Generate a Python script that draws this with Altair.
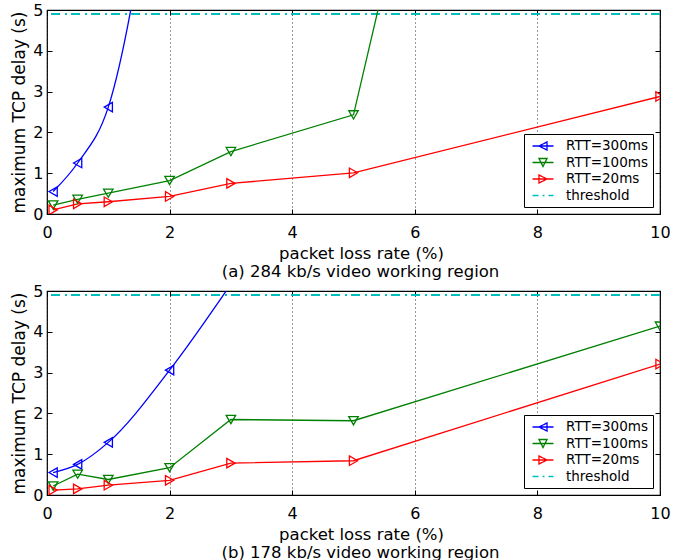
import altair as alt
import pandas as pd

# Packet loss rates (%) at which the maximum TCP delay was measured
loss_rate = [0.1, 0.5, 1, 2, 3, 5, 10]

# (a) 284 kb/s video working region: maximum TCP delay (s)
a_rtt300 = [0.55, 1.25, 2.62, 11.1]
a_rtt100 = [0.22, 0.36, 0.51, 0.82, 1.53, 2.43, 34.6]
a_rtt20 = [0.10, 0.25, 0.30, 0.43, 0.75, 1.01, 2.88]

# (b) 178 kb/s video working region: maximum TCP delay (s)
b_rtt300 = [0.55, 0.75, 1.29, 3.06, 5.17]
b_rtt100 = [0.22, 0.51, 0.38, 0.67, 1.85, 1.82, 4.14]
b_rtt20 = [0.12, 0.15, 0.24, 0.36, 0.78, 0.84, 3.21]

threshold = 4.9

series = ["RTT=300ms", "RTT=100ms", "RTT=20ms"]
legend_keys = series + ["threshold"]
colors = ["#0000FF", "#008000", "#FF0000"]
threshold_color = "#00BFBF"
marker_shapes = ["triangle-left", "triangle-down", "triangle-right"]
x_ticks = [0, 2, 4, 6, 8, 10]
y_ticks = [0, 1, 2, 3, 4, 5]

FONT = "DejaVu Sans"

# Legend glyphs: a short line with the series marker drawn over it
legend_paths = [
    "M-1.75,0H1.75M-0.67,0L0.67,-0.67L0.67,0.67Z",
    "M-1.75,0H1.75M-0.67,-0.67L0.67,-0.67L0,0.67Z",
    "M-1.75,0H1.75M0.67,0L-0.67,-0.67L-0.67,0.67Z",
    "M-1.75,0H1.75",
]
legend_dashes = [[1, 0], [1, 0], [1, 0], [6, 4, 2, 4]]


def long_table(values):
    rows = []
    for name, vals in zip(series, values):
        for x, y in zip(loss_rate, vals):
            rows.append({"loss": x, "delay": y, "series": name})
    return pd.DataFrame(rows)


def inward_axis(orient, values):
    return alt.Axis(orient=orient, offset=-5, tickSize=5, values=values,
                    labels=False, grid=False, domain=False, title=None,
                    tickColor="black", tickWidth=1)


def key_legend():
    return alt.Legend(title=None, orient="bottom-right", offset=7)


def panel(values, caption):
    df = long_table(values)
    xs = alt.Scale(domain=[0, 10], nice=False, zero=False)
    ys = alt.Scale(domain=[0, 5], nice=False)
    color = alt.Color("series:N", scale=alt.Scale(domain=series, range=colors), legend=None)

    main_x = alt.Axis(orient="bottom", values=x_ticks, grid=True, gridDash=[1, 3],
                      gridColor="black", gridOpacity=0.8, gridWidth=1, tickSize=0,
                      domain=False, labelFlush=False, labelPadding=10,
                      title="packet loss rate (%)", titlePadding=5, titleX=314,
                      titleFontSize=16.5)
    main_y = alt.Axis(orient="left", values=y_ticks, grid=False, tickSize=0, domain=False,
                      labelPadding=4, title="maximum TCP delay (s)", titlePadding=4)

    rule = alt.Chart(pd.DataFrame({"delay": [threshold]})).mark_rule(
        color=threshold_color, strokeDash=[9, 4, 2, 5], strokeWidth=2
    ).encode(y=alt.Y("delay:Q", scale=ys, axis=None))

    lines_rest = alt.Chart(df).transform_filter(
        alt.datum.series != series[0]
    ).mark_line(clip=True, strokeWidth=1.3).encode(
        x=alt.X("loss:Q", scale=xs, axis=main_x),
        y=alt.Y("delay:Q", scale=ys, axis=main_y),
        color=color,
    )

    line_blue = alt.Chart(df).transform_filter(
        alt.datum.series == series[0]
    ).mark_line(clip=True, strokeWidth=1.3, interpolate="monotone").encode(
        x=alt.X("loss:Q", scale=xs, axis=inward_axis("bottom", x_ticks)),
        y=alt.Y("delay:Q", scale=ys, axis=inward_axis("left", y_ticks)),
        color=color,
    )

    point_layers = []
    for i, (name, shape) in enumerate(zip(series, marker_shapes)):
        ax_x = inward_axis("top", x_ticks) if i == 0 else None
        ax_y = inward_axis("right", y_ticks) if i == 0 else None
        pts = alt.Chart(df).transform_filter(
            alt.datum.series == name
        ).mark_point(clip=True, shape=shape, filled=False, size=90, strokeWidth=1.3,
                     opacity=1).encode(
            x=alt.X("loss:Q", scale=xs, axis=ax_x),
            y=alt.Y("delay:Q", scale=ys, axis=ax_y),
            color=color,
        )
        point_layers.append(pts)

    # Invisible layer that carries the combined line+marker legend
    key = alt.Chart(df).mark_point(clip=True, opacity=0, filled=False).encode(
        x=alt.X("loss:Q", scale=xs, axis=None),
        y=alt.Y("delay:Q", scale=ys, axis=None),
        stroke=alt.Stroke("series:N", scale=alt.Scale(domain=legend_keys, range=colors + [threshold_color]),
                          legend=key_legend()),
        shape=alt.Shape("series:N", scale=alt.Scale(domain=legend_keys, range=legend_paths),
                        legend=key_legend()),
        strokeDash=alt.StrokeDash("series:N", scale=alt.Scale(domain=legend_keys, range=legend_dashes),
                                  legend=key_legend()),
    )

    return alt.layer(rule, lines_rest, line_blue, *point_layers, key).resolve_axis(
        x="independent", y="independent"
    ).properties(
        width=613, height=204,
        title=alt.TitleParams(caption, orient="bottom", fontSize=16.5, font=FONT,
                              fontWeight="normal", color="black", offset=2.5, dx=7,
                              anchor="middle", frame="group"),
    )


top = panel([a_rtt300, a_rtt100, a_rtt20], "(a) 284 kb/s video working region")
bottom = panel([b_rtt300, b_rtt100, b_rtt20], "(b) 178 kb/s video working region")

chart = alt.vconcat(top, bottom, spacing=0).resolve_scale(
    color="independent", stroke="independent", shape="independent", strokeDash="independent",
    x="independent", y="independent",
).resolve_legend(
    color="independent", stroke="independent", shape="independent", strokeDash="independent",
).properties(
    padding={"left": 10, "top": 1, "right": 0, "bottom": 0}
).configure_view(
    stroke="black", strokeWidth=1.2
).configure_axis(
    labelFont=FONT, titleFont=FONT, labelFontSize=16, titleFontSize=17,
    titleFontWeight="normal", labelColor="black", titleColor="black",
).configure_legend(
    padding=5, symbolOffset=7, strokeColor="black",
    fillColor="white", cornerRadius=0, labelFont=FONT, labelFontSize=13.5,
    labelColor="black", symbolSize=144, symbolStrokeWidth=1.3, symbolOpacity=1,
    labelOffset=16, rowPadding=2.5,
)

chart.save("out.html", embed_options={"renderer": "svg", "actions": False})
